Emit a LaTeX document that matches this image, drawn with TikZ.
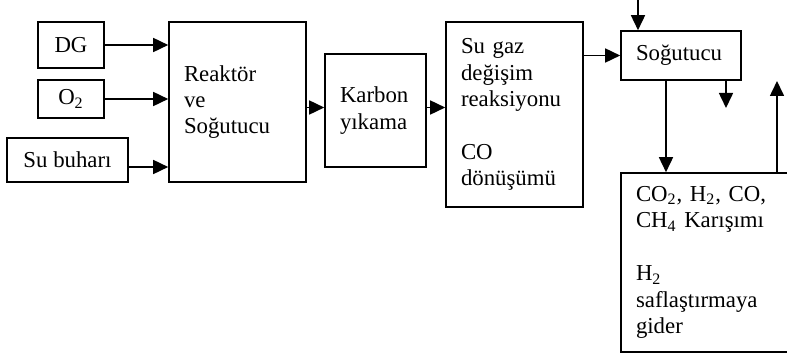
\documentclass[tikz,border=0pt]{standalone}
\usepackage{fontspec}
\setmainfont{Liberation Serif}
\usetikzlibrary{arrows.meta}

\tikzset{
  kutu/.style={draw, line width=0.8pt, inner xsep=7.5pt, align=left,
    font=\fontsize{11.4}{13.2}\selectfont},
  ok/.style={-{Triangle[length=7.5pt,width=7pt]}, line width=0.8pt}
}

\begin{document}
\begin{tikzpicture}[x=0.5pt,y=-0.5pt]
\clip (0,0) rectangle (787,358);
% girdiler
\node[kutu, minimum width=33pt, minimum height=23pt, align=center] (dg) at (71,45) {DG};
\node[kutu, minimum width=33pt, minimum height=19pt, align=center] (o2) at (71,99) {O\textsubscript{2}};
\node[kutu, minimum width=60.5pt, minimum height=22pt, inner xsep=2pt, align=center] (su) at (67.5,160) {Su buharı};

% ana hat
\node[kutu, text width=53.5pt, minimum height=80pt] (rk) at (237.5,102) {Reaktör\\ve\\Soğutucu};
\node[kutu, text width=35.5pt, minimum height=56.5pt] (kb) at (375.5,110.5) {Karbon\\yıkama};
\node[kutu, text width=53.5pt, minimum height=92.5pt] (sg) at (514.5,114.5) {Su gaz\\değişim\\reaksiyonu\\[13.2pt]CO\\dönüşümü};
\node[kutu, text width=45pt, minimum height=24.5pt] (so) at (681,55.5) {Soğutucu};
\node[kutu, text width=74.5pt, minimum height=89.5pt] (mx) at (710.5,262.5) {CO\textsubscript{2}, H\textsubscript{2}, CO,\\CH\textsubscript{4} Karışımı\\[13.2pt]H\textsubscript{2}\\saflaştırmaya\\gider};

\coordinate (ust) at (638,0);
\coordinate (cikis) at (726,108);
\coordinate (asagi) at (666,0);
\coordinate (yukari) at (777,81);
\coordinate (suo) at ([yshift=-3.5pt]su.east);
\coordinate (rko) at ([yshift=1.5pt]kb.west -| rk.east);

\draw[ok] (dg.east) -- (dg.east -| rk.west);
\draw[ok] (o2.east) -- (o2.east -| rk.west);
\draw[ok] (suo) -- (suo -| rk.west);
\draw[ok] (rko) -- (rko -| kb.west);
\draw[ok] (rko -| kb.east) -- (rko -| sg.west);
\draw[ok] (so.west -| sg.east) -- (so.west);
\draw[ok] (ust) -- (ust |- so.north);
\draw[ok] (so.south -| cikis) -- (cikis);
\draw[ok] (so.south -| asagi) -- (asagi |- mx.north);
\draw[ok] (mx.north -| yukari) -- (yukari);
\end{tikzpicture}
\end{document}
